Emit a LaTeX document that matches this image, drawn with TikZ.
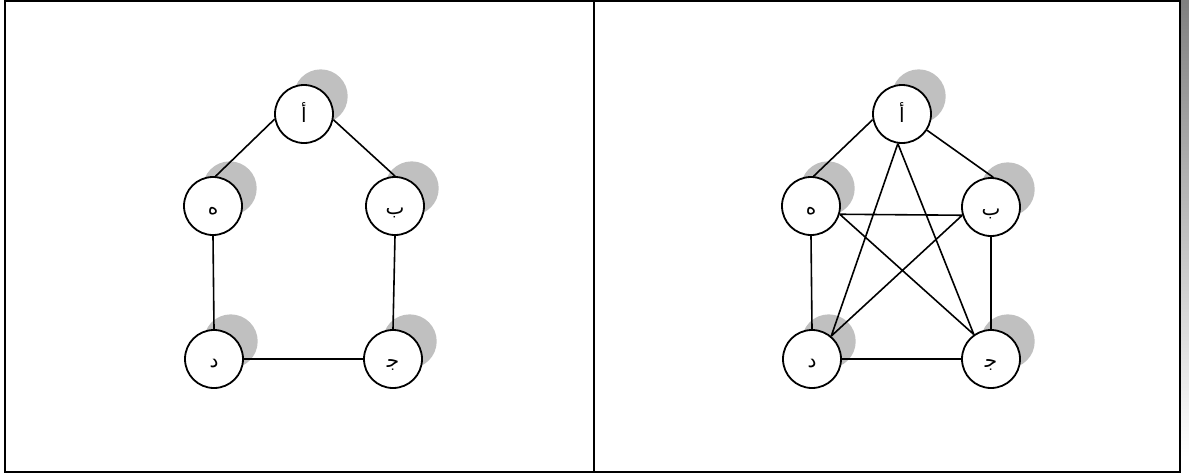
\documentclass[tikz,border=0pt]{standalone}
\usepackage{fontspec}
\newfontfamily\arabicfont[Script=Arabic]{DejaVu Sans}
\TeXXeTstate=1
\usepackage{tikz}
\usetikzlibrary{shadows}
\definecolor{shade}{RGB}{192,192,192}
\tikzset{
  % frame
	cstframe/.style  ={line width=2pt},
	cstrule/.style   ={line width=1.6pt},
  % node
	cstvertex/.style ={circle,draw=black,fill=white,line width=1.8pt,
		minimum size=58pt,inner sep=0pt,text height=16pt,text depth=0pt,
		font=\arabicfont\fontsize{20}{22}\selectfont,
		drop shadow={shadow xshift=18pt,shadow yshift=19pt,
			shadow scale=.93,fill=shade,opacity=1}},
  % edge
	cstedge/.style   ={line width=1.6pt}
}

\begin{document}
\begin{tikzpicture}[x=1pt,y=-1pt]
			\useasboundingbox (0,0) rectangle (1189,475);
			\fill[shade] (1181,0) rectangle (1189,457); % 阴影条
			\draw[cstframe] (5,1) rectangle (1180,472);
			\draw[cstrule] (594,1)--(594,472);
			% left: cycle
			\node[cstvertex] (la) at (304,114) {\beginR أ\endR};
			\node[cstvertex] (lh) at (213,206) {\beginR ه\endR};
			\node[cstvertex] (lb) at (395,206) {\beginR ب\endR};
			\node[cstvertex] (ld) at (214,359) {\beginR د\endR};
			\node[cstvertex] (lj) at (393,359) {\beginR ج^^^^200d\endR};
			\draw[cstedge] (la.190)--(lh.85) (la.-11)--(lb.north)
				(lh.south)--(ld.north) (lb.south)--(lj.north)
				(ld.east)--(lj.west);
			% right: complete graph
			\node[cstvertex] (ra) at (902,114) {\beginR أ\endR};
			\node[cstvertex] (rh) at (811,206) {\beginR ه\endR};
			\node[cstvertex] (rb) at (991,207) {\beginR ب\endR};
			\node[cstvertex] (rd) at (812,359) {\beginR د\endR};
			\node[cstvertex] (rj) at (991,359) {\beginR ج^^^^200d\endR};
			\draw[cstedge] (ra.191)--(rh.85) (ra.-33)--(rb.86)
				(ra.-98)--(rd.50) (ra.-98)--(rj.125)
				(rh.-16)--(rb.196) (rh.-16)--(rj.125)
				(rb.196)--(rd.50)
				(rh.south)--(rd.north) (rb.south)--(rj.north)
				(rd.east)--(rj.west);
		\end{tikzpicture}
\end{document}
